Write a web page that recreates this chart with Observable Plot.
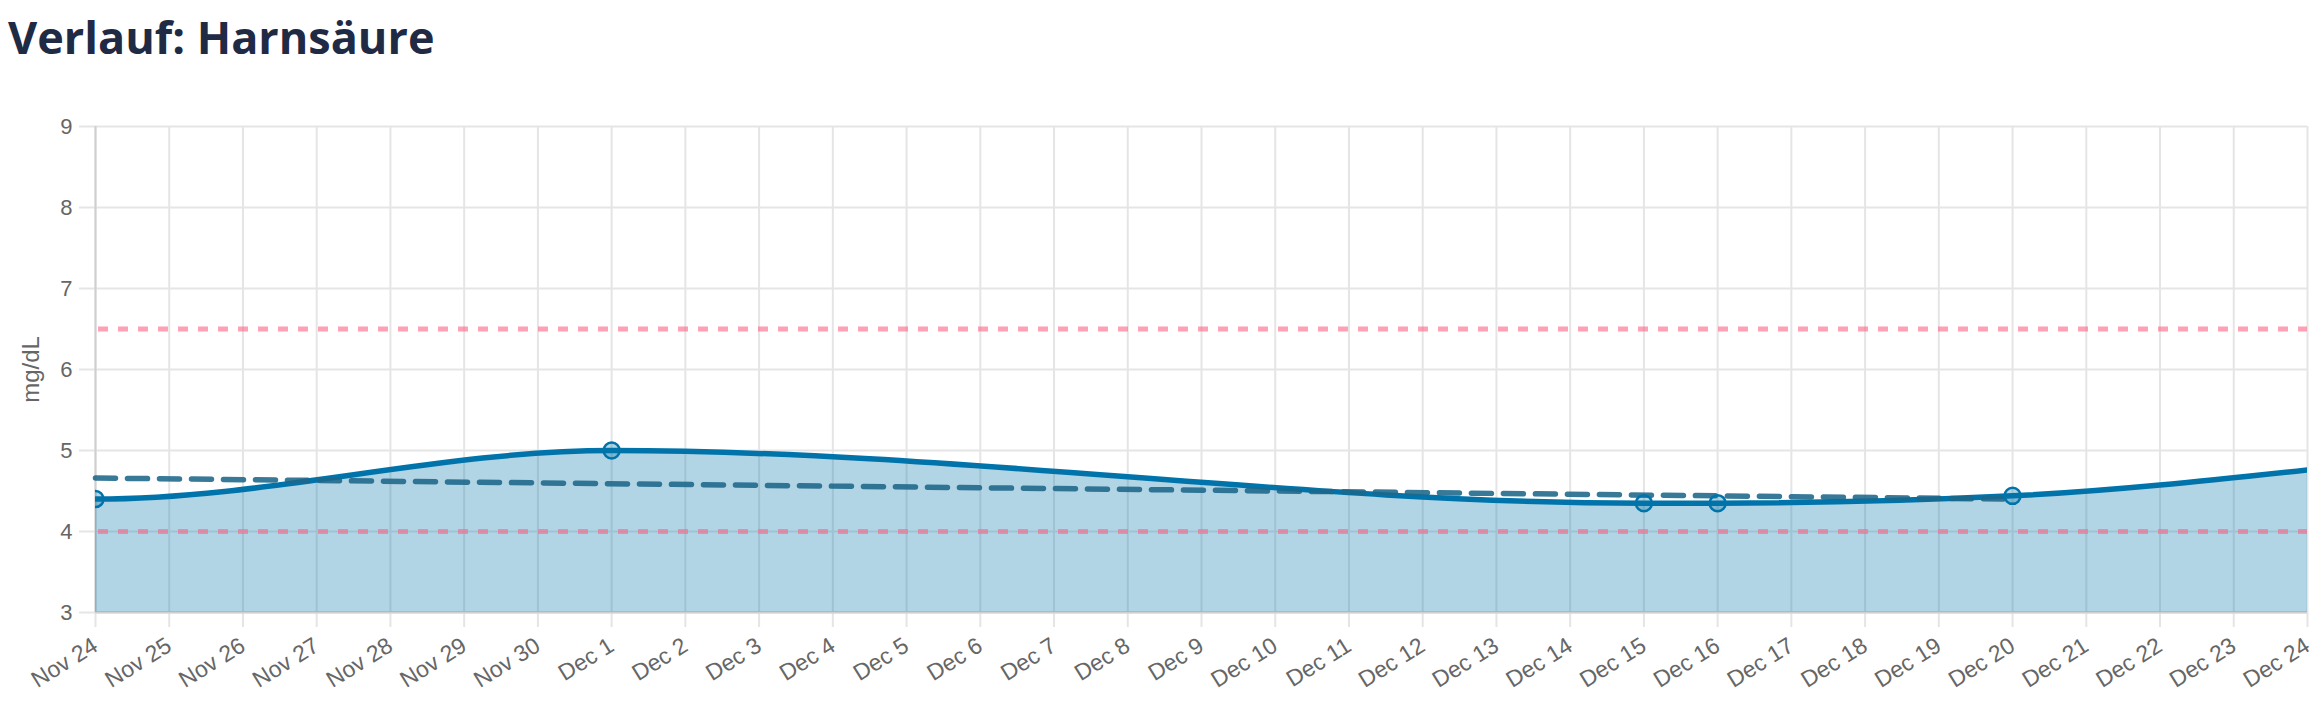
<!DOCTYPE html>
<html>
<head>
<meta charset="utf-8">
<script src="https://cdn.jsdelivr.net/npm/d3@7"></script>
<script src="https://cdn.jsdelivr.net/npm/@observablehq/plot@0.6"></script>
<style>
  html, body { margin: 0; padding: 0; background: #fff; overflow: hidden; }
  #title { height: 80px; box-sizing: border-box; padding: 14px 0 0 8px; }
  #title h1 { margin: 0; font: 700 45px/1 "Open Sans", sans-serif; color: #1f2a44; letter-spacing: 0; }
  #chart svg { display: block; }
</style>
</head>
<body>
<div id="title"><h1></h1></div>
<div id="chart"></div>
<script>
// ---- data ----
const titleText = "Verlauf: Harnsäure";
const yLabel = "mg/dL";
const dates = ["2024-11-24", "2024-12-01", "2024-12-15", "2024-12-16", "2024-12-20", "2024-12-24"];
const values = [4.40, 5.00, 4.35, 4.35, 4.44, 4.76];
const measured = [true, true, true, true, true, false];
const trendDates = ["2024-11-24", "2024-12-20"];
const trendValues = [4.66, 4.40];
const refRange = [4.0, 6.5];
const yTicks = [3, 4, 5, 6, 7, 8, 9];
const xDomain = ["2024-11-24", "2024-12-24"];

// ---- build tables ----
const parse = d3.utcParse("%Y-%m-%d");
const series = dates.map((d, i) => ({date: parse(d), value: values[i], measured: measured[i]}));
const trend = trendDates.map((d, i) => ({date: parse(d), value: trendValues[i]}));
const x0 = parse(xDomain[0]), x1 = parse(xDomain[1]);
const xTicks = d3.utcDay.range(x0, d3.utcDay.offset(x1, 1));

// monotone cubic curve with a flat start tangent (as in the reference)
function FlatStart(context) { this._context = context; }
FlatStart.prototype = {
  areaStart() { this._line = 0; },
  areaEnd() { this._line = NaN; },
  lineStart() { this._xs = []; this._ys = []; },
  point(x, y) { this._xs.push(+x); this._ys.push(+y); },
  lineEnd() {
    const xs = this._xs, ys = this._ys, n = xs.length, c = this._context;
    if (n) {
      this._line ? c.lineTo(xs[0], ys[0]) : c.moveTo(xs[0], ys[0]);
      if (n === 2) c.lineTo(xs[1], ys[1]);
      else if (n > 2) {
        const h = [], s = [];
        for (let i = 0; i < n - 1; i++) { h[i] = xs[i + 1] - xs[i]; s[i] = h[i] ? (ys[i + 1] - ys[i]) / h[i] : 0; }
        const m = new Array(n);
        m[0] = 0;
        for (let i = 1; i < n - 1; i++) {
          const p = (s[i - 1] * h[i] + s[i] * h[i - 1]) / (h[i - 1] + h[i]);
          m[i] = (Math.sign(s[i - 1]) + Math.sign(s[i])) * Math.min(Math.abs(s[i - 1]), Math.abs(s[i]), 0.5 * Math.abs(p)) || 0;
        }
        m[n - 1] = (3 * s[n - 2] - m[n - 2]) / 2;
        for (let i = 0; i < n - 1; i++) {
          const dx = h[i] / 3;
          c.bezierCurveTo(xs[i] + dx, ys[i] + dx * m[i], xs[i + 1] - dx, ys[i + 1] - dx * m[i + 1], xs[i + 1], ys[i + 1]);
        }
      }
    }
    if (this._line || (this._line !== 0 && n === 1)) c.closePath();
    this._line = 1 - this._line;
  }
};
const curve = (ctx) => new FlatStart(ctx);

const yMin = yTicks[0];
const lineColor = "rgb(0,116,170)";
const gridColor = "#e5e5e5";
const textColor = "#666";
const fs = 22;

const chart = Plot.plot({
  width: 2322,
  height: 642,
  marginTop: 46,
  marginBottom: 110,
  marginLeft: 95,
  marginRight: 15,
  style: {fontFamily: "'Liberation Sans', Arial, Helvetica, sans-serif", fontSize: fs + "px", background: "#fff"},
  x: {type: "utc", domain: [x0, x1], axis: null},
  y: {domain: [yTicks[0], yTicks[yTicks.length - 1]], axis: null},
  marks: [
    Plot.gridX(xTicks, {stroke: gridColor, strokeOpacity: 1, strokeWidth: 2, insetBottom: -15}),
    Plot.gridY(yTicks, {stroke: gridColor, strokeOpacity: 1, strokeWidth: 2, insetLeft: -16}),
    Plot.ruleX([x0], {stroke: "#cfcfcf", strokeWidth: 2}),
    Plot.ruleY([yMin], {stroke: "#cfcfcf", strokeWidth: 2}),
    Plot.areaY(series, {x: "date", y1: yMin, y2: "value", fill: lineColor, fillOpacity: 0.3, curve, clip: true}),
    Plot.ruleY(refRange, {stroke: "rgb(255,99,132)", strokeOpacity: 0.6, strokeWidth: 5, strokeDasharray: "10,10", insetLeft: 3}),
    Plot.line(series, {x: "date", y: "value", stroke: lineColor, strokeWidth: 5.5, curve, clip: true}),
    Plot.line(trend, {x: "date", y: "value", stroke: "#1d678a", strokeOpacity: 0.88, strokeWidth: 5.5, strokeDasharray: "20,12"}),
    Plot.dot(series.filter(d => d.measured), {x: "date", y: "value", r: 8, stroke: lineColor, strokeWidth: 2.5, fill: lineColor, fillOpacity: 0.3, clip: true}),
    Plot.axisY(yTicks, {tickSize: 0, tickPadding: 23, fontSize: fs, color: textColor, tickFormat: d => String(d), label: null}),
    Plot.axisX(xTicks, {tickSize: 0, tickPadding: 31, tickRotate: -32, fontSize: fs + 1, color: textColor, tickFormat: d3.utcFormat("%b %-d"), label: null}),
    Plot.text([yLabel], {frameAnchor: "left", dx: -64, rotate: -90, textAnchor: "middle", fontSize: 24, fill: textColor})
  ]
});
document.getElementById("chart").appendChild(chart);
document.querySelector("#title h1").textContent = titleText;
</script>
</body>
</html>
